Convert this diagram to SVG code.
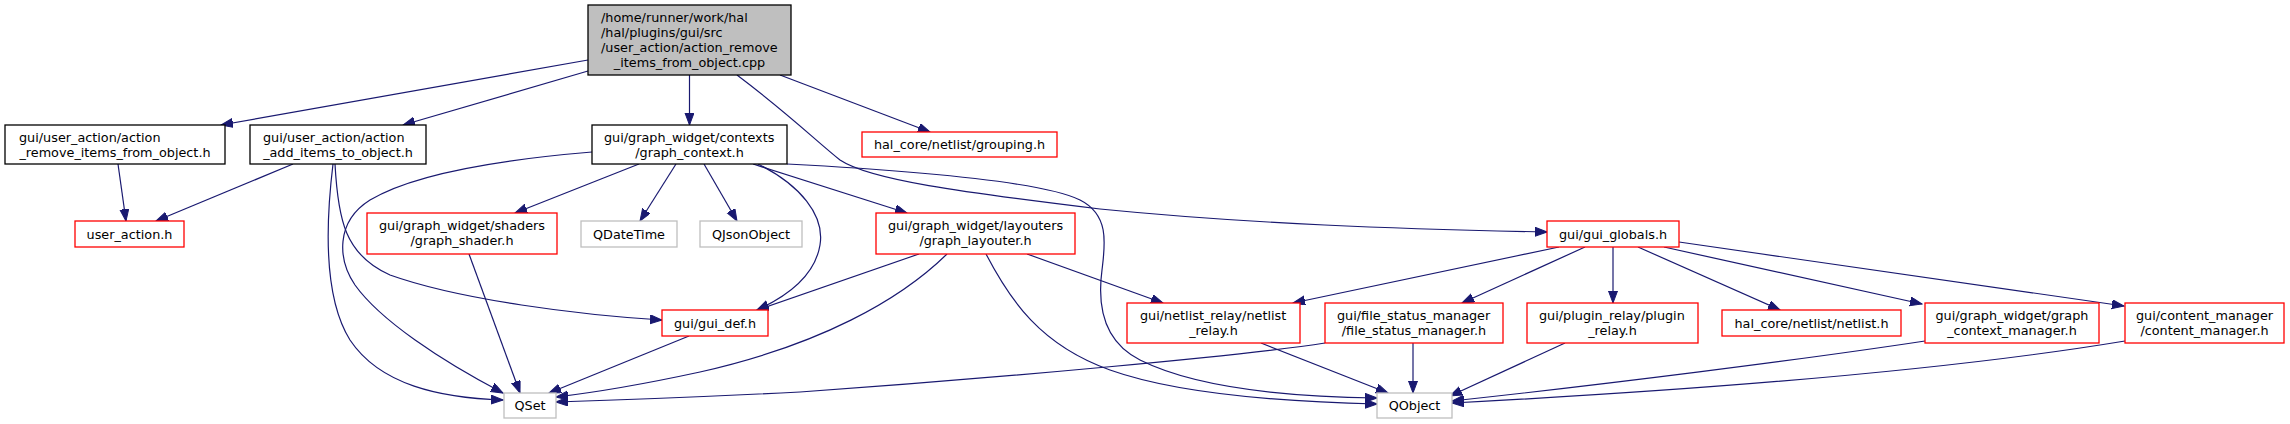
<svg xmlns="http://www.w3.org/2000/svg" width="2290" height="424" viewBox="0 0 2290 424">
<style>
text{font-family:"DejaVu Sans","Liberation Sans",sans-serif;font-size:12.8px;fill:#000000;stroke:none}
.c{text-anchor:middle}
rect{fill:#fff;stroke-width:1.3}
rect.k{stroke:#000}
rect.r{stroke:#ff0000}
rect.g{stroke:#bfbfbf}
rect.root{fill:#bfbfbf;stroke:#000}
.e{fill:none;stroke:#191970;stroke-width:1.2;marker-end:url(#a)}
</style>
<defs>
<marker id="a" markerUnits="userSpaceOnUse" markerWidth="13" markerHeight="10" refX="12" refY="4.5" orient="auto">
<path d="M0,0 L12,4.5 L0,9 Z" fill="#191970" stroke="#191970" stroke-width="1"/>
</marker>
</defs>
<rect width="2290" height="424" fill="#fff" style="stroke:none"/>
<g id="edges">
<path class="e" d="M588,60 L221,125"/>
<path class="e" d="M588,71 L403,125"/>
<path class="e" d="M689.5,75 L689.5,125"/>
<path class="e" d="M780,75 L930,132"/>
<path class="e" d="M737,75 C790,115 815,140 840,160 C870,180 960,192 1100,209 C1250,224 1400,229 1547,232"/>
<path class="e" d="M118,164 L126,221"/>
<path class="e" d="M293,164 L156,221"/>
<path class="e" d="M333,164 C325,230 325,300 350,340 C380,385 440,398 503,400"/>
<path class="e" d="M335,164 C338,220 345,255 390,275 C460,300 580,315 662,320"/>
<path class="e" d="M639,164 L515,213"/>
<path class="e" d="M676,164 L640,221"/>
<path class="e" d="M704,164 L737,221"/>
<path class="e" d="M753,164 L907,213"/>
<path class="e" d="M758,164 C800,185 825,215 820,245 C815,275 790,295 757,310"/>
<path class="e" d="M592,152 C520,158 420,170 370,200 C335,222 338,260 355,285 C380,320 440,360 503,393"/>
<path class="e" d="M787,164 C900,170 1040,180 1080,200 C1110,215 1105,245 1102,270 C1098,300 1100,340 1140,360 C1200,390 1300,397 1377,398"/>
<path class="e" d="M469,254 L520,393"/>
<path class="e" d="M689,336 L549,393"/>
<path class="e" d="M947,254 C900,300 820,345 700,372 C640,385 590,393 556,397"/>
<path class="e" d="M919,254 L757,310"/>
<path class="e" d="M986,254 C1010,300 1040,345 1110,370 C1180,395 1290,402 1377,404"/>
<path class="e" d="M1027,254 L1163,303"/>
<path class="e" d="M1559,247 L1293,303"/>
<path class="e" d="M1585,247 L1462,303"/>
<path class="e" d="M1613,247 L1613,303"/>
<path class="e" d="M1638,247 L1780,310"/>
<path class="e" d="M1664,247 L1922,304"/>
<path class="e" d="M1679,242 L2124,306"/>
<path class="e" d="M1261,343 L1388,393"/>
<path class="e" d="M1413,343 L1413,393"/>
<path class="e" d="M1325,343 C1250,355 1000,378 800,392 C700,397 620,400 556,402"/>
<path class="e" d="M1565,343 L1450,396"/>
<path class="e" d="M1925,341 C1800,360 1600,385 1452,401"/>
<path class="e" d="M2125,341 C1950,370 1700,390 1452,403"/>
</g>
<g id="root"><rect class="root" x="588" y="5" width="203" height="70"/>
<text x="601" y="22">/home/runner/work/hal</text><text x="601" y="37">/hal/plugins/gui/src</text><text x="601" y="52">/user_action/action_remove</text><text class="c" x="689.5" y="67">_items_from_object.cpp</text></g>
<g id="n_remove"><rect class="k" x="5" y="125" width="220" height="39"/>
<text x="19" y="141.5">gui/user_action/action</text><text class="c" x="115" y="156.5">_remove_items_from_object.h</text></g>
<g id="n_add"><rect class="k" x="250" y="125" width="176" height="39"/>
<text x="263" y="141.5">gui/user_action/action</text><text class="c" x="338" y="156.5">_add_items_to_object.h</text></g>
<g id="n_graph_context"><rect class="k" x="592" y="125" width="195" height="39"/>
<text x="604" y="141.5">gui/graph_widget/contexts</text><text class="c" x="689.5" y="156.5">/graph_context.h</text></g>
<g id="n_grouping"><rect class="r" x="862" y="132" width="195" height="25"/>
<text class="c" x="959.5" y="149">hal_core/netlist/grouping.h</text></g>
<g id="n_user_action"><rect class="r" x="75" y="221" width="109" height="26"/>
<text class="c" x="129.5" y="238.5">user_action.h</text></g>
<g id="n_shader"><rect class="r" x="367" y="213" width="190" height="41"/>
<text x="379" y="230">gui/graph_widget/shaders</text><text class="c" x="462" y="245">/graph_shader.h</text></g>
<g id="n_qdatetime"><rect class="g" x="581" y="221" width="96" height="26"/>
<text class="c" x="629" y="238.5">QDateTime</text></g>
<g id="n_qjsonobject"><rect class="g" x="700" y="221" width="102" height="26"/>
<text class="c" x="751" y="238.5">QJsonObject</text></g>
<g id="n_layouter"><rect class="r" x="876" y="213" width="199" height="41"/>
<text x="888" y="230">gui/graph_widget/layouters</text><text class="c" x="975.5" y="245">/graph_layouter.h</text></g>
<g id="n_gui_globals"><rect class="r" x="1547" y="221" width="132" height="26"/>
<text class="c" x="1613" y="238.5">gui/gui_globals.h</text></g>
<g id="n_gui_def"><rect class="r" x="662" y="310" width="106" height="26"/>
<text class="c" x="715" y="327.5">gui/gui_def.h</text></g>
<g id="n_netlist_relay"><rect class="r" x="1127" y="303" width="173" height="40"/>
<text x="1140" y="319.5">gui/netlist_relay/netlist</text><text class="c" x="1213.5" y="334.5">_relay.h</text></g>
<g id="n_file_status"><rect class="r" x="1325" y="303" width="178" height="40"/>
<text x="1337" y="319.5">gui/file_status_manager</text><text class="c" x="1414" y="334.5">/file_status_manager.h</text></g>
<g id="n_plugin_relay"><rect class="r" x="1527" y="303" width="171" height="40"/>
<text x="1539" y="319.5">gui/plugin_relay/plugin</text><text class="c" x="1612.5" y="334.5">_relay.h</text></g>
<g id="n_netlist"><rect class="r" x="1722" y="310" width="179" height="26"/>
<text class="c" x="1811.5" y="327.5">hal_core/netlist/netlist.h</text></g>
<g id="n_gcm"><rect class="r" x="1925" y="303" width="174" height="40"/>
<text x="1935.5" y="319.5">gui/graph_widget/graph</text><text class="c" x="2012" y="334.5">_context_manager.h</text></g>
<g id="n_content_manager"><rect class="r" x="2125" y="303" width="159" height="40"/>
<text x="2136" y="319.5">gui/content_manager</text><text class="c" x="2204.5" y="334.5">/content_manager.h</text></g>
<g id="n_qset"><rect class="g" x="504" y="393" width="52" height="25"/>
<text class="c" x="530" y="410">QSet</text></g>
<g id="n_qobject"><rect class="g" x="1377" y="393" width="75" height="25"/>
<text class="c" x="1414.5" y="410">QObject</text></g>
</svg>
